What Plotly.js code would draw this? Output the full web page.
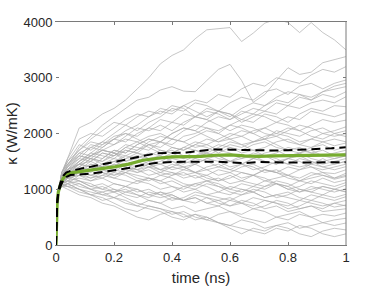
<!DOCTYPE html>
<html>
<head>
<meta charset="utf-8">
<script src="https://cdn.plot.ly/plotly-3.0.1.min.js"></script>
<style>html,body{margin:0;padding:0;background:#fff;}#chart{width:382px;height:286px;}</style>
</head>
<body>
<div id="chart"></div>
<script>
// shared initial rise of every run (time in ns, kappa in W/mK)
const riseT = [0, 0.004, 0.009];
const riseK = [0, 700, 980];
// sampling times of the individual runs after the rise
const runT = [0.02,0.04,0.08,0.12,0.16,0.20,0.24,0.28,0.32,0.36,0.40,0.44,0.48,0.52,0.56,0.60,0.64,0.68,0.72,0.76,0.80,0.84,0.88,0.92,0.96,1.00];

// individual runs (approximate)
const r01 = [1300,1550,2100,2200,2350,2450,2600,2800,3000,3250,3400,3500,3700,3860,3880,3900,3650,3800,3980,4050,3990,3810,3990,3810,3680,3500];
const r02 = [1250,1420,1750,1950,2150,2300,2450,2600,2650,2780,2840,2760,2750,2950,3150,3240,2950,2560,2700,2950,3180,3060,3100,3270,3330,3380];
const r03 = [1200,1300,1500,1650,1800,1900,2050,2150,2300,2400,2350,2500,2600,2550,2700,2650,2800,2900,2850,3000,2950,2900,3050,3150,3100,3200];
const r04 = [1150,1350,1600,1800,1750,1900,2000,1950,2100,2250,2200,2350,2300,2450,2400,2550,2650,2600,2750,2800,2700,2850,2900,2800,2900,2960];
const r05 = [1300,1500,1800,1700,1850,2000,2150,2050,2200,2300,2450,2400,2550,2500,2400,2300,2450,2550,2500,2650,2750,2700,2600,2750,2850,2900];
const r06 = [1100,1250,1450,1600,1550,1700,1650,1800,1900,1850,2000,2100,2050,2200,2300,2250,2400,2350,2500,2600,2550,2700,2650,2750,2800,2840];
const r07 = [1250,1450,1700,1900,2050,2200,2150,2300,2400,2350,2500,2450,2300,2400,2350,2250,2350,2450,2400,2550,2500,2650,2600,2700,2650,2750];
const r08 = [1200,1400,1550,1750,1850,1800,1950,2100,2050,2150,2050,2200,2300,2250,2400,2350,2200,2300,2400,2350,2500,2450,2550,2600,2550,2660];
const r09 = [1150,1300,1350,1500,1650,1600,1750,1700,1850,1950,1900,2050,2150,2100,2000,2150,2250,2200,2350,2300,2200,2350,2450,2400,2500,2480];
const r10 = [1300,1550,1900,2000,1950,2100,2250,2350,2300,2450,2400,2500,2400,2300,2400,2350,2250,2350,2300,2200,2300,2250,2400,2350,2300,2370];
const r11 = [1100,1200,1400,1550,1500,1650,1800,1750,1700,1850,1800,1950,2000,2100,2050,2150,2100,2000,2100,2200,2150,2050,2150,2250,2200,2240];
const r12 = [1250,1400,1650,1600,1750,1900,1850,2000,2100,2050,2200,2150,2300,2250,2150,2050,2150,2100,2000,1950,2050,2150,2100,2000,2050,2120];
const r13 = [1150,1300,1500,1650,1600,1550,1700,1650,1800,1750,1900,1850,1950,2050,2000,1900,1950,2050,2100,2000,1950,1850,1900,2000,1950,2000];
const r14 = [1200,1350,1450,1400,1550,1700,1650,1800,1900,1850,2000,2100,2050,1950,1850,1900,1800,1850,1950,2000,2100,2050,1950,1900,2000,1944];
const r15 = [1050,1150,1300,1450,1400,1500,1600,1550,1650,1600,1750,1700,1800,1900,1850,1950,2050,2000,1900,1950,1850,1800,1900,1850,1780,1830];
const r16 = [1300,1500,1700,1850,1800,1950,2000,1900,1800,1850,1750,1700,1800,1750,1650,1750,1700,1800,1850,1750,1700,1650,1750,1800,1700,1760];
const r17 = [1150,1250,1350,1300,1450,1400,1550,1650,1600,1700,1650,1550,1600,1700,1800,1750,1650,1700,1600,1650,1750,1700,1650,1600,1650,1700];
const r18 = [1250,1350,1500,1600,1700,1650,1550,1600,1500,1550,1650,1750,1700,1600,1700,1800,1750,1850,1900,1800,1700,1750,1650,1700,1600,1650];
const r19 = [1100,1200,1250,1400,1350,1300,1450,1400,1500,1450,1550,1500,1600,1650,1550,1500,1600,1550,1650,1700,1600,1650,1550,1500,1550,1600];
const r20 = [1200,1350,1550,1500,1650,1600,1750,1850,1750,1650,1700,1600,1550,1650,1600,1500,1450,1550,1500,1450,1550,1600,1500,1450,1500,1550];
const r21 = [1150,1300,1400,1350,1450,1550,1500,1600,1550,1450,1500,1400,1450,1350,1400,1500,1450,1550,1600,1550,1450,1400,1450,1550,1450,1500];
const r22 = [1300,1450,1650,1750,1700,1800,1900,1850,1950,2000,1900,1850,1750,1800,1700,1650,1550,1600,1500,1450,1550,1500,1400,1350,1400,1450];
const r23 = [1050,1100,1250,1200,1300,1250,1350,1300,1400,1350,1450,1400,1300,1250,1350,1300,1400,1450,1350,1300,1400,1350,1450,1400,1350,1406];
const r24 = [1200,1300,1350,1450,1400,1500,1450,1350,1400,1300,1250,1350,1300,1400,1450,1350,1300,1250,1350,1300,1250,1350,1400,1300,1280,1350];
const r25 = [1150,1250,1400,1550,1500,1600,1700,1650,1550,1600,1500,1450,1550,1500,1400,1350,1450,1400,1300,1350,1250,1200,1300,1250,1200,1287];
const r26 = [1100,1150,1200,1150,1250,1200,1300,1250,1200,1150,1250,1300,1200,1250,1150,1200,1300,1250,1150,1200,1250,1150,1200,1250,1180,1230];
const r27 = [1250,1350,1450,1400,1350,1450,1400,1300,1350,1250,1300,1200,1250,1150,1200,1100,1150,1250,1200,1100,1050,1150,1100,1200,1120,1167];
const r28 = [1100,1200,1300,1250,1200,1300,1250,1150,1200,1100,1150,1050,1100,1150,1050,1000,1100,1050,1150,1100,1000,1050,1150,1100,1050,1120];
const r29 = [1200,1250,1300,1400,1350,1250,1300,1200,1150,1250,1200,1100,1050,1150,1100,1000,950,1050,1000,1100,1050,950,1000,1050,1000,1077];
const r30 = [1050,1100,1150,1050,1000,1100,1050,950,1000,900,950,1050,1000,900,950,1050,1000,950,1050,1100,1000,950,1050,1000,950,1010];
const r31 = [1150,1200,1250,1150,1200,1100,1050,1150,1100,1000,1050,950,1000,1100,1050,950,900,1000,950,850,900,1000,950,900,1000,957];
const r32 = [1100,1150,1100,1000,950,1000,900,850,950,900,800,850,950,900,850,800,900,950,850,900,950,850,800,900,850,910];
const r33 = [1250,1300,1350,1250,1300,1200,1150,1100,1200,1150,1050,1000,1100,1050,950,900,1000,950,850,900,850,800,900,850,800,867];
const r34 = [1050,1100,1000,950,900,850,950,900,800,750,850,800,750,850,800,700,750,850,800,750,700,800,750,700,750,800];
const r35 = [1150,1200,1150,1050,1100,1000,950,1000,900,850,900,800,850,750,800,850,750,700,800,750,650,700,800,750,680,718];
const r36 = [1200,1250,1150,1100,1000,950,1050,1000,900,950,850,800,900,850,750,700,800,750,650,700,600,650,700,600,620,650];
const r37 = [1100,1050,950,900,800,850,750,700,800,750,650,700,600,650,700,600,550,650,600,500,550,600,500,550,520,574];
const r38 = [1150,1100,1000,900,850,750,650,600,700,650,550,600,500,450,550,600,500,450,400,500,450,550,500,400,450,480];
const r39 = [1050,1000,900,850,750,700,600,500,450,550,600,500,550,450,400,350,450,400,300,350,400,300,350,400,350,395];
const r40 = [1100,1050,1000,900,950,850,800,700,650,600,500,450,550,500,400,300,200,300,250,350,300,200,150,250,300,270];
const r41 = [1150,1150,1050,1000,900,950,850,750,700,650,600,550,450,500,400,350,300,250,200,300,250,350,300,200,150,200];
const r42 = [1250,1400,1600,1550,1700,1650,1500,1550,1450,1500,1600,1550,1700,1650,1750,1850,1800,1700,1750,1850,1900,1800,1750,1850,1900,1850];
const r43 = [1100,1250,1300,1250,1350,1450,1400,1350,1250,1300,1400,1350,1450,1550,1500,1400,1450,1350,1400,1500,1450,1550,1500,1400,1450,1500];
const r44 = [1200,1300,1450,1500,1400,1350,1450,1500,1400,1450,1350,1400,1300,1350,1250,1300,1200,1250,1350,1300,1200,1150,1250,1300,1200,1250];
const r45 = [1150,1300,1450,1600,1700,1650,1600,1700,1800,1700,1650,1750,1850,1800,1900,2000,1950,1850,1900,2050,2000,1950,2050,2100,2000,2050];
const r46 = [1300,1450,1600,1550,1450,1500,1400,1350,1450,1350,1300,1250,1300,1200,1150,1250,1150,1100,1050,1150,1100,1000,950,1050,1000,950];
const r47 = [1150,1250,1300,1200,1250,1350,1300,1400,1450,1350,1400,1500,1450,1550,1600,1500,1550,1650,1600,1500,1550,1650,1700,1600,1550,1600];
const r48 = [1050,1050,1100,1000,1050,950,1000,900,850,950,900,800,850,750,700,800,750,650,700,800,750,650,700,650,750,700];
const runs = [r01,r02,r03,r04,r05,r06,r07,r08,r09,r10,r11,r12,r13,r14,r15,r16,r17,r18,r19,r20,r21,r22,r23,r24,
              r25,r26,r27,r28,r29,r30,r31,r32,r33,r34,r35,r36,r37,r38,r39,r40,r41,r42,r43,r44,r45,r46,r47,r48];

// mean and error band
const meanT  = [0,0.004,0.008,0.015,0.025,0.035,0.05,0.08,0.12,0.16,0.2,0.25,0.3,0.35,0.4,0.45,0.5,0.55,0.6,0.65,0.7,0.75,0.8,0.85,0.9,0.95,1.0];
const meanK  = [0,750,950,1080,1200,1260,1295,1315,1340,1370,1400,1450,1520,1556,1580,1585,1590,1610,1615,1598,1590,1598,1600,1600,1610,1615,1616];
const upperK = [0,770,980,1110,1240,1300,1330,1360,1400,1440,1490,1540,1600,1645,1650,1660,1690,1715,1710,1705,1695,1695,1700,1710,1718,1735,1754];
const lowerK = [0,730,920,1050,1160,1220,1255,1265,1280,1310,1340,1380,1440,1475,1490,1495,1495,1495,1480,1470,1490,1480,1478,1480,1482,1484,1485];

const xTicks = [0,0.2,0.4,0.6,0.8,1];
const xTickText = ['0','0.2','0.4','0.6','0.8','1'];
const yTicks = [0,1000,2000,3000,4000];
const yTickText = ['0','1000','2000','3000','4000'];

const traces = [];
runs.forEach(r => {
  traces.push({x: riseT.concat(runT), y: riseK.concat(r), mode: 'lines',
    line: {color: '#adadad', width: 0.7}, hoverinfo: 'skip', showlegend: false});
});
traces.push({x: meanT, y: meanK, mode: 'lines', line: {color: '#77ac30', width: 3.2}, showlegend: false});
traces.push({x: meanT, y: upperK, mode: 'lines', line: {color: '#000', width: 2, dash: '9px,5px'}, showlegend: false});
traces.push({x: meanT, y: lowerK, mode: 'lines', line: {color: '#000', width: 2, dash: '9px,5px'}, showlegend: false});

const axisGray = '#7a7a7a';
const tickFont = {family: 'Liberation Sans, Arial, sans-serif', size: 13, color: '#262626'};
const layout = {
  width: 382, height: 286,
  margin: {l: 56, r: 36, t: 22, b: 41},
  paper_bgcolor: '#fff', plot_bgcolor: '#fff',
  showlegend: false,
  xaxis: {
    range: [0, 1], tickmode: 'array', tickvals: xTicks, ticktext: xTickText,
    ticks: 'inside', ticklen: 3, tickcolor: axisGray, tickwidth: 1,
    showline: true, linecolor: axisGray, linewidth: 1, mirror: 'allticks',
    showgrid: false, zeroline: false, tickfont: tickFont,
    title: {text: 'time (ns)', font: {family: 'Liberation Sans, Arial, sans-serif', size: 15, color: '#262626'}, standoff: 10}
  },
  yaxis: {
    range: [0, 4000], tickmode: 'array', tickvals: yTicks, ticktext: yTickText,
    ticks: 'inside', ticklen: 3, tickcolor: axisGray, tickwidth: 1,
    showline: true, linecolor: 'rgba(0,0,0,0)', mirror: 'allticks',
    showgrid: false, zeroline: false, tickfont: tickFont,
    title: {text: 'κ (W/mK)', font: {family: 'Liberation Sans, Arial, sans-serif', size: 15, color: '#262626'}, standoff: 2}
  },
  shapes: [{type: 'line', xref: 'paper', yref: 'paper', x0: 1, x1: 1, y0: 0, y1: 1,
            line: {color: axisGray, width: 1}}]
};
Plotly.newPlot('chart', traces, layout, {displayModeBar: false, staticPlot: true});
</script>
</body>
</html>
